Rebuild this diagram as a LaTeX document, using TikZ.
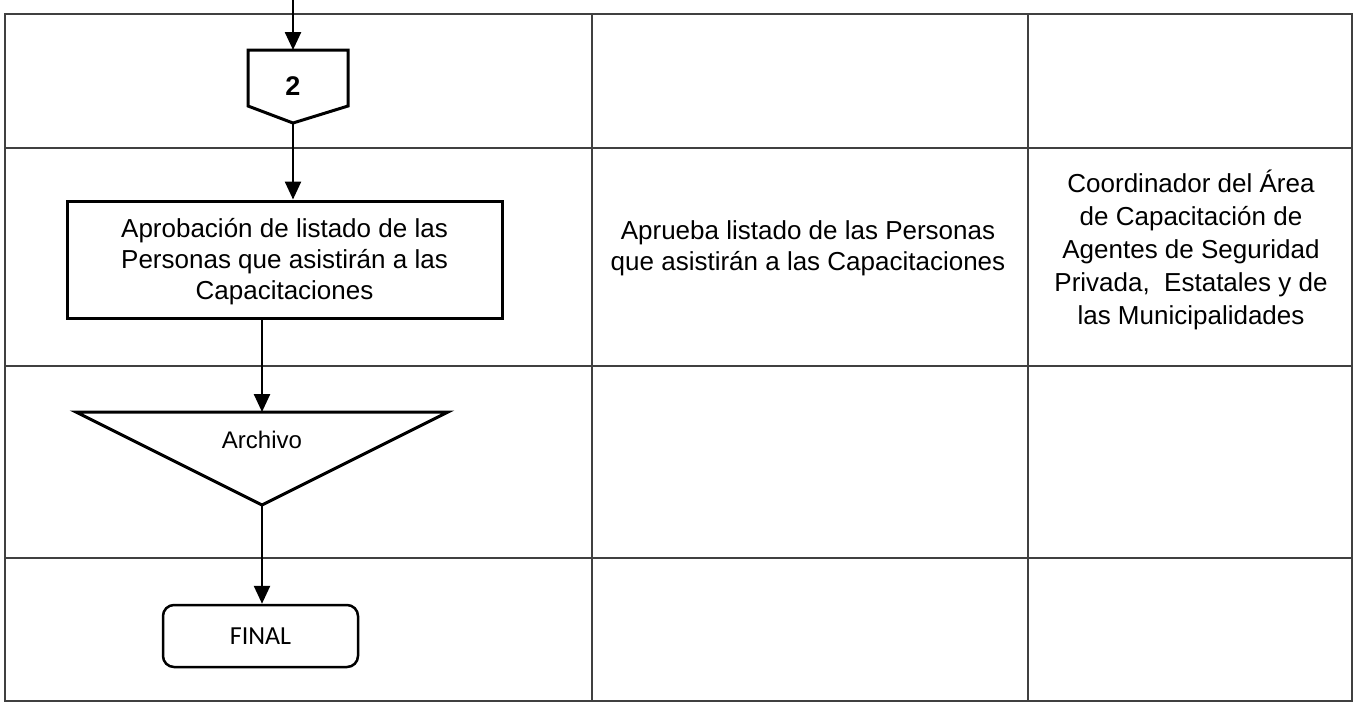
\documentclass[tikz,border=0pt]{standalone}
\usepackage{fontspec}
\setmainfont{Liberation Sans}
\newfontfamily\calib{Carlito}
\usetikzlibrary{arrows.meta}
\begin{document}
\begin{tikzpicture}[x=1pt,y=-1pt,
  grid/.style={draw=black!75, line width=1.5pt},
  shp/.style={draw=black, line width=3pt, line join=miter},
  flow/.style={draw=black, line width=2.5pt, -{Triangle[length=18pt,width=16pt]}},
  txt/.style={font=\fontsize{26}{31}\selectfont, align=center, inner sep=0pt},
]
\useasboundingbox (0,0) rectangle (1356,705);
% table grid
\draw[grid] (5,14) rectangle (1352,701);
\foreach \x in {592,1028} \draw[grid] (\x,14) -- (\x,701);
\foreach \y in {148,366,558} \draw[grid] (5,\y) -- (1352,\y);
% off-page connector 2
\draw[shp] (248,50) -- (348,50) -- (348,106) -- (293,123) -- (248,106) -- cycle;
\node[font=\bfseries\fontsize{27}{30}\selectfont] (c2) at (293,86) {2};
\coordinate (c2top) at (293,50);
\coordinate (c2tip) at (293,123);
\coordinate (entry) at (293,0);
% process box
\node[shp, minimum width=435pt, minimum height=117pt] (apr) at (284.5,259.5) {};
\node[txt] (aprtxt) at (284.5,262) {Aprobación de listado de las\\Personas que asistirán a las\\Capacitaciones};
% archive triangle
\draw[shp] (76,412) -- (448,412) -- (262,505) -- cycle;
\node[font=\fontsize{24}{28}\selectfont, inner sep=0pt] (arch) at (262,440) {Archivo};
\coordinate (archtop) at (262,412);
\coordinate (archtip) at (262,505);
% final terminator
\node[draw=black, line width=2.5pt, rounded corners=11pt, minimum width=195pt, minimum height=62pt,
  font=\calib\fontsize{26}{30}\selectfont] (final) at (260.5,636) {FINAL};
% column texts
\node[txt] (desc) at (808,248) {Aprueba listado de las Personas\\que asistirán a las Capacitaciones};
\node[txt, font=\fontsize{26}{33}\selectfont] (resp) at (1191,250)
  {Coordinador del Área\\de Capacitación de\\Agentes de Seguridad\\Privada,\ \ Estatales y de\\las Municipalidades};
% connectors
\draw[flow] (entry) -- (c2top);
\draw[flow] (c2tip) -- (c2tip |- apr.north);
\draw[flow] (apr.south -| archtop) -- (archtop);
\draw[flow] (archtip) -- (archtip |- final.north);
\end{tikzpicture}
\end{document}
